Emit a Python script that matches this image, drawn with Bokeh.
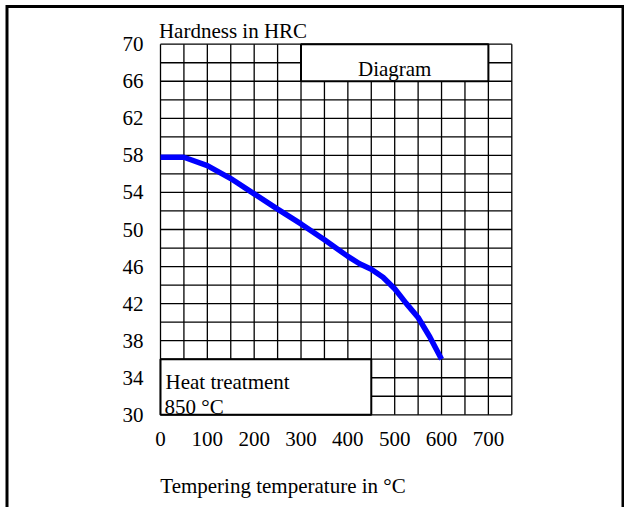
import numpy as np
from bokeh.plotting import figure
from bokeh.models import Range1d, LinearAxis, FixedTicker, Label
from bokeh.embed import file_html
from bokeh.resources import INLINE

# ---------------- data ----------------
temperature = [0, 50, 100, 150, 200, 250, 300, 350, 400, 425, 450, 475, 500, 525, 550, 575, 600]
hardness = [57.8, 57.8, 56.9, 55.5, 53.85, 52.2, 50.6, 48.9, 47.1, 46.3, 45.7, 44.85, 43.6, 42.0, 40.5, 38.4, 36.0]

x_ticks = [0, 100, 200, 300, 400, 500, 600, 700]
x_tick_labels = ["0", "100", "200", "300", "400", "500", "600", "700"]
y_ticks = [30, 34, 38, 42, 46, 50, 54, 58, 62, 66, 70]
y_tick_labels = ["30", "34", "38", "42", "46", "50", "54", "58", "62", "66", "70"]

x_limits = [0, 750]
y_limits = [30, 70]
x_grid_step = 50
y_grid_step = 2

diagram_box = [300, 700, 66, 70]      # left, right, bottom, top
heat_box = [0, 450, 30, 36]

y_title = "Hardness in HRC"
x_title = "Tempering temperature in °C"
diagram_text = "Diagram"
heat_text = ["Heat treatment", "850 °C"]

# ---------------- layout (page pixels) ----------------
W, H = 624, 507
PAGE0 = 0
X0_PAGE = 160.0
X_PX = 23.42 / 50.0
Y0_PAGE = 414.3
Y_PX = 9.265
FONT = "Liberation Serif"
FS = "21px"


def xd(px):
    return x_limits[0] + (px - X0_PAGE) / X_PX


def yd(py):
    return y_limits[0] + (Y0_PAGE - py) / Y_PX


p = figure(width=W, height=H, output_backend="svg", toolbar_location=None,
           x_range=Range1d(xd(PAGE0), xd(PAGE0 + W)),
           y_range=Range1d(yd(PAGE0 + H), yd(PAGE0)),
           x_axis_type=None, y_axis_type=None, min_border=0,
           outline_line_color=None, background_fill_color="white",
           border_fill_color="white")

# outer page border (top, left, right)
bx0, bx1 = xd(6.5), xd(622.5)
by0, by1 = yd(PAGE0 + H), yd(6)
p.line([bx0, bx0, bx1, bx1], [by0, by1, by1, by0], line_color="black",
       line_width=3, line_join="miter")

# grid
gx = np.arange(x_limits[0], x_limits[1] + 1, x_grid_step)
gy = np.arange(y_limits[0], y_limits[1] + 0.5, y_grid_step)
p.segment(x0=gx, y0=[y_limits[0]] * len(gx), x1=gx, y1=[y_limits[1]] * len(gx),
          line_color="black", line_width=1.3)
p.segment(x0=[x_limits[0]] * len(gy), y0=gy, x1=[x_limits[1]] * len(gy), y1=gy,
          line_color="black", line_width=1.3)

# boxes
for box in (diagram_box, heat_box):
    p.quad(left=[box[0]], right=[box[1]], bottom=[box[2]], top=[box[3]],
           fill_color="white", line_color="black", line_width=2)

# curve
p.line(temperature, hardness, line_color="#0000ff", line_width=5.5)

# axes
yaxis = LinearAxis(ticker=FixedTicker(ticks=y_ticks, minor_ticks=[]), fixed_location=x_limits[0],
                   major_label_overrides={t: s for t, s in zip(y_ticks, y_tick_labels)},
                   axis_line_color=None, major_tick_line_color=None, minor_tick_line_color=None,
                   major_tick_in=0, major_tick_out=0, major_label_standoff=17,
                   major_label_text_font=FONT, major_label_text_font_size=FS,
                   major_label_text_color="black")
p.add_layout(yaxis, "left")
xaxis = LinearAxis(ticker=FixedTicker(ticks=x_ticks, minor_ticks=[]), fixed_location=y_limits[0],
                   major_label_overrides={t: s for t, s in zip(x_ticks, x_tick_labels)},
                   axis_line_color=None, major_tick_line_color=None, minor_tick_line_color=None,
                   major_tick_in=0, major_tick_out=0, major_label_standoff=17,
                   major_label_text_font=FONT, major_label_text_font_size=FS,
                   major_label_text_color="black")
p.add_layout(xaxis, "below")

# texts
def lab(text, x, y, align="left"):
    p.add_layout(Label(x=x, y=y, text=text, text_font=FONT, text_font_size=FS,
                       text_color="black", text_align=align, text_baseline="alphabetic"))

lab(y_title, xd(232.5), yd(30), "center")
lab(x_title, xd(282.5), yd(485), "center")
lab(diagram_text, (diagram_box[0] + diagram_box[1]) / 2, yd(68), "center")
lab(heat_text[0], xd(165), yd(381.7))
lab(heat_text[1], xd(164), yd(406.7))

open("out.html", "w").write(file_html(p, INLINE))
